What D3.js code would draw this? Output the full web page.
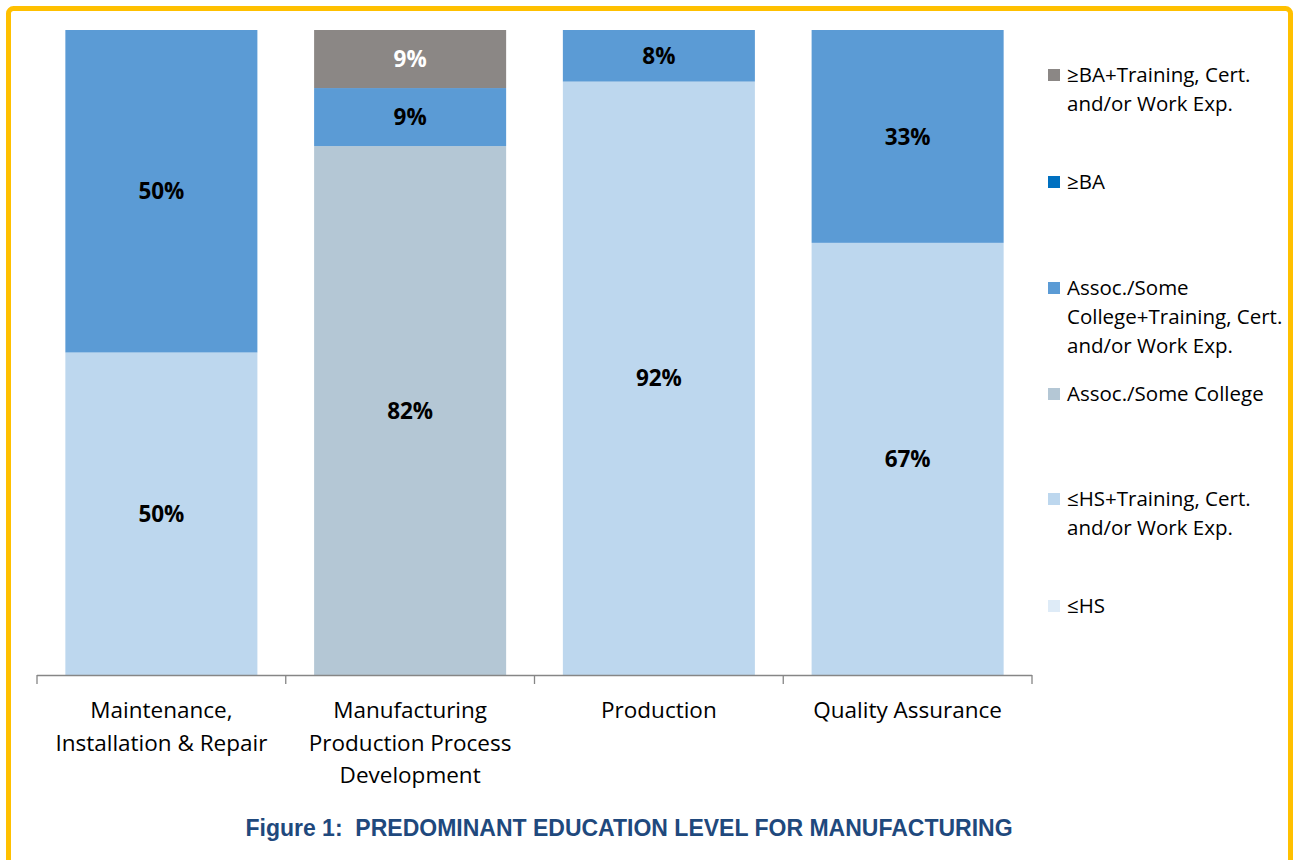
<!DOCTYPE html>
<html>
<head>
<meta charset="utf-8">
<script src="https://cdn.jsdelivr.net/npm/d3@7"></script>
<style>
  body { margin: 0; background: #fff; }
  svg { display: block; }
</style>
</head>
<body>
<svg></svg>
<script>
// data
const categories = [
  ["Maintenance,", "Installation & Repair"],
  ["Manufacturing", "Production Process", "Development"],
  ["Production"],
  ["Quality Assurance"]
];
const legendLines = [
  ["≤HS"],
  ["≤HS+Training, Cert.", "and/or Work Exp."],
  ["Assoc./Some College"],
  ["Assoc./Some", "College+Training, Cert.", "and/or Work Exp."],
  ["≥BA"],
  ["≥BA+Training, Cert.", "and/or Work Exp."]
];
const hs          = [0, 0, 0, 0];
const hsTraining  = [50, 0, 92, 67];
const assoc       = [0, 82, 0, 0];
const assocTrain  = [50, 9, 8, 33];
const ba          = [0, 0, 0, 0];
const baTraining  = [0, 9, 0, 0];
const colors = ["#DEEBF7", "#BDD7EE", "#B4C7D5", "#5B9BD5", "#0070C0", "#8B8785"];

const keys = ["hs", "hsTraining", "assoc", "assocTrain", "ba", "baTraining"];
const cols = [hs, hsTraining, assoc, assocTrain, ba, baTraining];
const rows = categories.map((c, i) => {
  const r = { cat: c.join(" ") };
  keys.forEach((k, j) => r[k] = cols[j][i]);
  return r;
});

const W = 1299, H = 860;
const svg = d3.select("svg").attr("width", W).attr("height", H);

// yellow frame
svg.append("rect")
  .attr("x", 8.5).attr("y", 8.5)
  .attr("width", W - 17).attr("height", H + 40)
  .attr("rx", 5)
  .attr("fill", "none")
  .attr("stroke", "#FFC000")
  .attr("stroke-width", 5);

const plotLeft = 37, plotRight = 1032, plotTop = 30, plotBottom = 675;

const x = d3.scaleBand()
  .domain(rows.map(d => d.cat))
  .range([plotLeft, plotRight])
  .paddingInner(0.228)
  .paddingOuter(0.114);

const y = d3.scaleLinear().domain([0, 100]).range([plotBottom, plotTop]);

const stack = d3.stack().keys(keys)(rows);

const layer = svg.append("g").selectAll("g")
  .data(stack)
  .join("g")
  .attr("fill", (d, i) => colors[i]);

layer.selectAll("rect")
  .data(d => d)
  .join("rect")
  .attr("x", d => x(d.data.cat))
  .attr("y", d => y(d[1]))
  .attr("width", x.bandwidth())
  .attr("height", d => y(d[0]) - y(d[1]));

// value labels
layer.each(function(s, i) {
  d3.select(this).selectAll("text")
    .data(s.filter(d => d[1] - d[0] > 0))
    .join("text")
    .attr("x", d => x(d.data.cat) + x.bandwidth() / 2)
    .attr("y", d => (y(d[0]) + y(d[1])) / 2)
    .attr("dy", "0.36em")
    .attr("text-anchor", "middle")
    .attr("font-family", "Open Sans, sans-serif")
    .attr("font-weight", "bold")
    .attr("font-size", 22.5)
    .attr("fill", i === 5 ? "#fff" : "#000")
    .text(d => (d[1] - d[0]) + "%");
});

// axis
const axis = svg.append("g").attr("stroke", "#868686").attr("stroke-width", 1.3);
axis.append("line")
  .attr("x1", plotLeft).attr("x2", plotRight)
  .attr("y1", plotBottom + 0.5).attr("y2", plotBottom + 0.5);
const tickXs = rows.map(d => x(d.cat) - x.step() * x.paddingInner() / 2).concat([plotRight]);
axis.selectAll(".tick")
  .data(tickXs)
  .join("line")
  .attr("x1", d => d).attr("x2", d => d)
  .attr("y1", plotBottom).attr("y2", plotBottom + 9);

svg.append("g").selectAll("text")
  .data(rows)
  .join("text")
  .attr("text-anchor", "middle")
  .attr("font-family", "Open Sans, sans-serif")
  .attr("font-size", 22.5)
  .attr("fill", "#000")
  .each(function(d, i) {
    d3.select(this).selectAll("tspan")
      .data(categories[i])
      .join("tspan")
      .attr("x", x(d.cat) + x.bandwidth() / 2)
      .attr("y", (t, j) => 718 + j * 32.5)
      .text(t => t);
  });

// legend
const legendY = [606, 499, 394, 288, 182, 75];
const lg = svg.append("g").selectAll("g")
  .data(legendLines)
  .join("g")
  .attr("transform", (d, i) => `translate(1048, ${legendY[i]})`);
lg.append("rect")
  .attr("x", 0).attr("y", -6)
  .attr("width", 12).attr("height", 12)
  .attr("fill", (d, i) => colors[i]);
lg.append("text")
  .attr("font-family", "Open Sans, sans-serif")
  .attr("font-size", 20.5)
  .attr("fill", "#000")
  .selectAll("tspan")
  .data(d => d)
  .join("tspan")
  .attr("x", 19)
  .attr("y", (t, j) => j * 29)
  .attr("dy", "0.36em")
  .text(t => t);

// title
svg.append("text")
  .attr("x", 629).attr("y", 836)
  .attr("text-anchor", "middle")
  .attr("font-family", "Liberation Sans Narrow, Arial Narrow, sans-serif")
  .attr("font-weight", "bold")
  .attr("font-size", 23)
  .attr("fill", "#1F497D")
  .attr("xml:space", "preserve")
  .text("Figure 1:  PREDOMINANT EDUCATION LEVEL FOR MANUFACTURING");
</script>
</body>
</html>
